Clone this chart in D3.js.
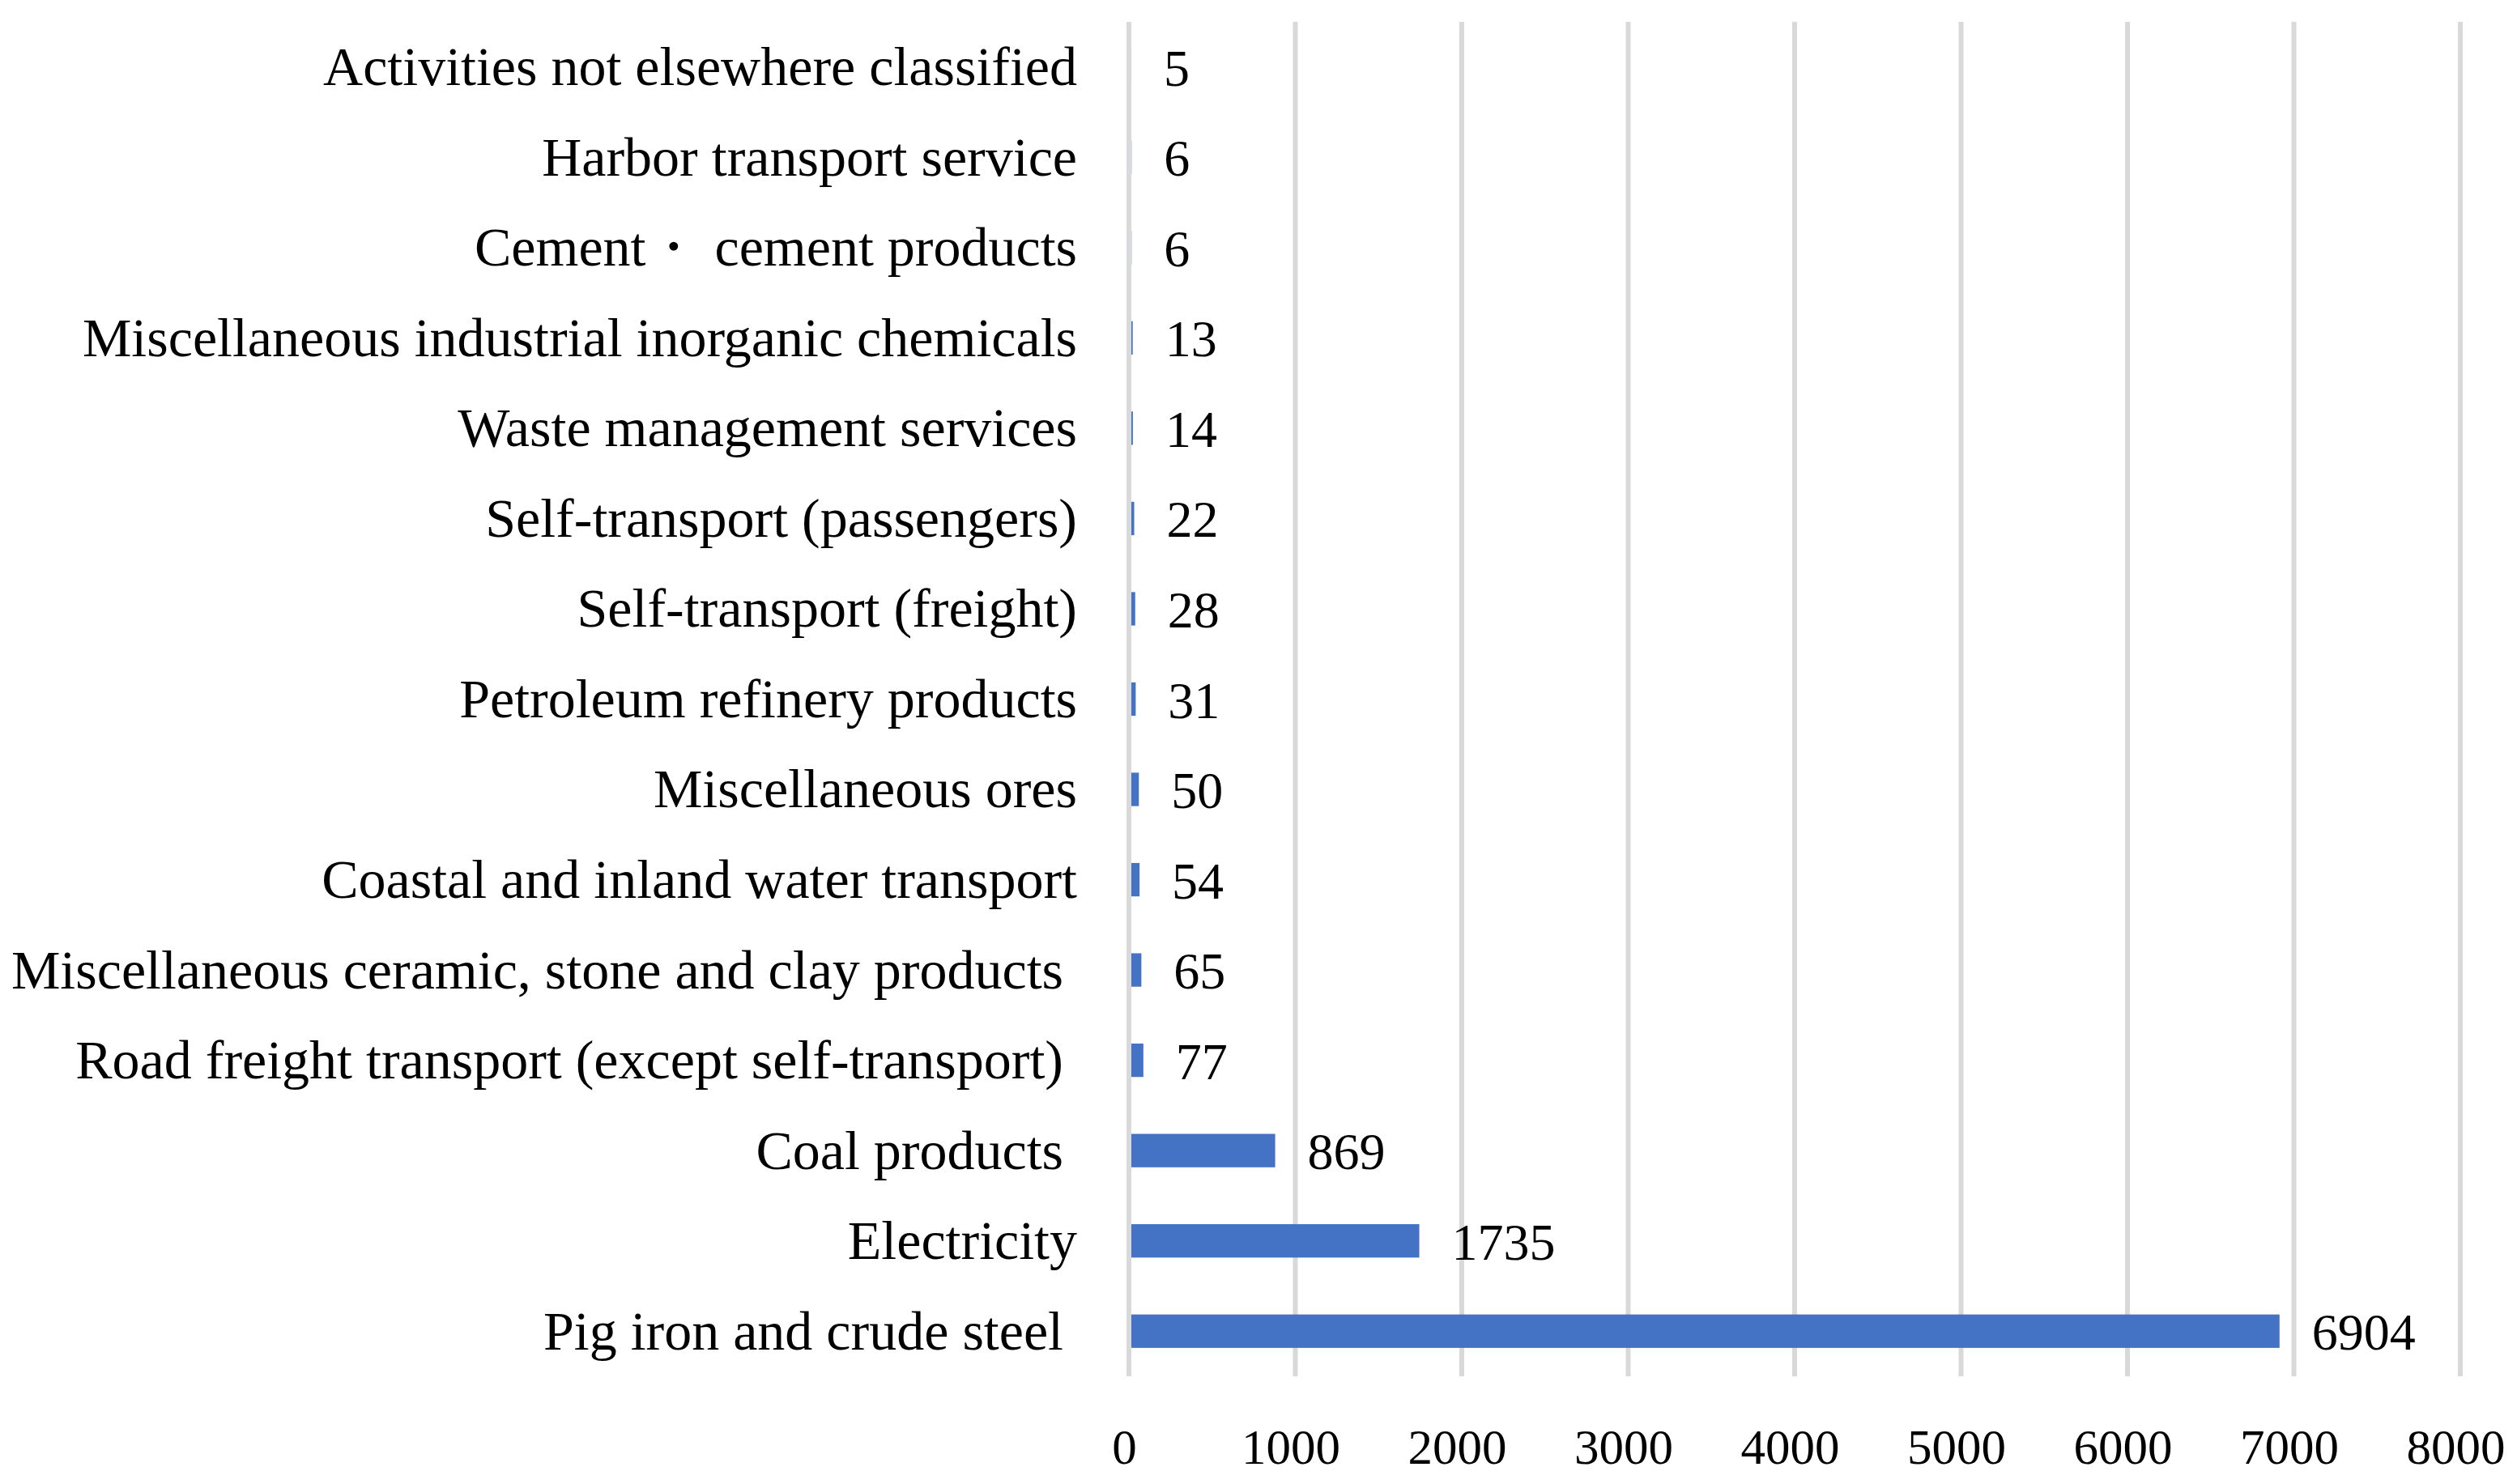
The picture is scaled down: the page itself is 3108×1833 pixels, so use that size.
<!DOCTYPE html>
<html>
<head>
<meta charset="utf-8">
<script src="https://cdn.jsdelivr.net/npm/d3@7"></script>
<style>
    body { margin: 0; background: #fff; }
    text { font-family: "Liberation Serif", "DejaVu Serif", serif; fill: #000; white-space: pre; }
</style>
</head>
<body>
<div id="chart"></div>
<script>
// Chart data (top to bottom)
var categories = [
    "Activities not elsewhere classified",
    "Harbor transport service",
    "Cement\u30FB cement products",
    "Miscellaneous industrial inorganic chemicals",
    "Waste management services",
    "Self-transport (passengers)",
    "Self-transport (freight)",
    "Petroleum refinery products",
    "Miscellaneous ores",
    "Coastal and inland water transport",
    "Miscellaneous ceramic, stone and clay products ",
    "Road freight transport (except self-transport) ",
    "Coal products ",
    "Electricity",
    "Pig iron and crude steel "
];
var values = [5, 6, 6, 13, 14, 22, 28, 31, 50, 54, 65, 77, 869, 1735, 6904];
var tickValues = [0, 1000, 2000, 3000, 4000, 5000, 6000, 7000, 8000];

(function() {
    'use strict';

    var width = 3108, height = 1833;
    var plotTop = 27, plotBottom = 1700;
    var axisHalf = 3; // bars start just right of the zero line

    var svg = d3.select("#chart").append("svg")
        .attr("width", width)
        .attr("height", height);

    var x = d3.scaleLinear()
        .domain([0, 8000])
        .range([1394, 3038]);

    var y = d3.scaleBand()
        .domain(categories)
        .range([plotTop, plotBottom])
        .paddingInner(0.63)
        .paddingOuter(0.315);

    // Gridlines (behind the bars)
    svg.append("g")
        .attr("class", "grid")
        .selectAll("line")
        .data(tickValues)
        .enter().append("line")
        .attr("x1", function(d) { return x(d); })
        .attr("x2", function(d) { return x(d); })
        .attr("y1", plotTop)
        .attr("y2", plotBottom)
        .style("stroke", "#d9d9d9")
        .style("stroke-width", 6);

    // Bars
    svg.append("g")
        .attr("class", "bars")
        .selectAll("rect")
        .data(values)
        .enter().append("rect")
        .attr("x", x(0) + axisHalf)
        .attr("y", function(d, i) { return y(categories[i]); })
        .attr("width", function(d) { return Math.max(0, x(d) - x(0) - 1); })
        .attr("height", y.bandwidth())
        .style("fill", "#4472c4");

    // Value labels
    svg.append("g")
        .attr("class", "values")
        .selectAll("text")
        .data(values)
        .enter().append("text")
        .attr("x", function(d) { return x(d) + 42; })
        .attr("y", function(d, i) { return y(categories[i]) + y.bandwidth() / 2; })
        .attr("dy", "0.36em")
        .style("font-size", "64px")
        .text(function(d) { return d; });

    // Category axis
    var yAxis = svg.append("g")
        .attr("transform", "translate(1330,0)")
        .call(d3.axisLeft(y).tickSize(0).tickPadding(0));
    yAxis.select(".domain").remove();
    yAxis.selectAll("text")
        .attr("dy", "0.33em")
        .style("font-family", "'Liberation Serif', serif")
        .style("font-size", "68px")
        .style("fill", "#000");

    // Value axis
    var xAxis = svg.append("g")
        .attr("transform", "translate(0," + plotBottom + ")")
        .call(d3.axisBottom(x).tickValues(tickValues).tickSize(0).tickFormat(d3.format("d")));
    xAxis.select(".domain").remove();
    xAxis.selectAll("text")
        .attr("y", 108)
        .attr("dy", "0")
        .attr("dx", "-6")
        .style("font-family", "'Liberation Serif', serif")
        .style("font-size", "61px")
        .style("fill", "#000");
})();
</script>
</body>
</html>
